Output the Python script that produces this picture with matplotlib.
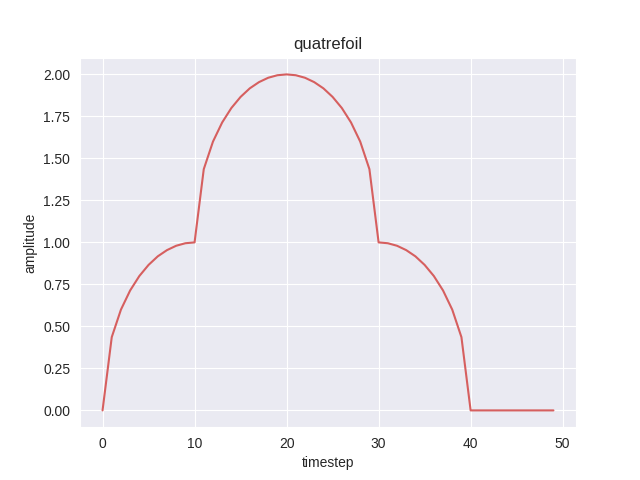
import matplotlib
matplotlib.use('Agg')
import matplotlib.pyplot as plt
import seaborn as sns

timestep = list(range(50))
amplitude = [
    0.0, 0.436, 0.6, 0.714, 0.8, 0.866, 0.917, 0.954, 0.98, 0.995,
    1.0, 1.436, 1.6, 1.714, 1.8, 1.866, 1.917, 1.954, 1.98, 1.995,
    2.0, 1.995, 1.98, 1.954, 1.917, 1.866, 1.8, 1.714, 1.6, 1.436,
    1.0, 0.995, 0.98, 0.954, 0.917, 0.866, 0.8, 0.714, 0.6, 0.436,
    0.0, 0.0, 0.0, 0.0, 0.0, 0.0, 0.0, 0.0, 0.0, 0.0,
]

sns.set_style('darkgrid')
plt.rcParams['font.family'] = ['Liberation Sans', 'DejaVu Sans']

fig, ax = plt.subplots(figsize=(6.4, 4.8), dpi=100)
ax.plot(timestep, amplitude, color='#d65f5f', linewidth=1.5)
ax.set_title('quatrefoil', fontsize=12)
ax.set_xlabel('timestep', fontsize=10)
ax.set_ylabel('amplitude', fontsize=10)
ax.tick_params(labelsize=10, length=0, pad=7)
fig.savefig('out.png', dpi=100)
